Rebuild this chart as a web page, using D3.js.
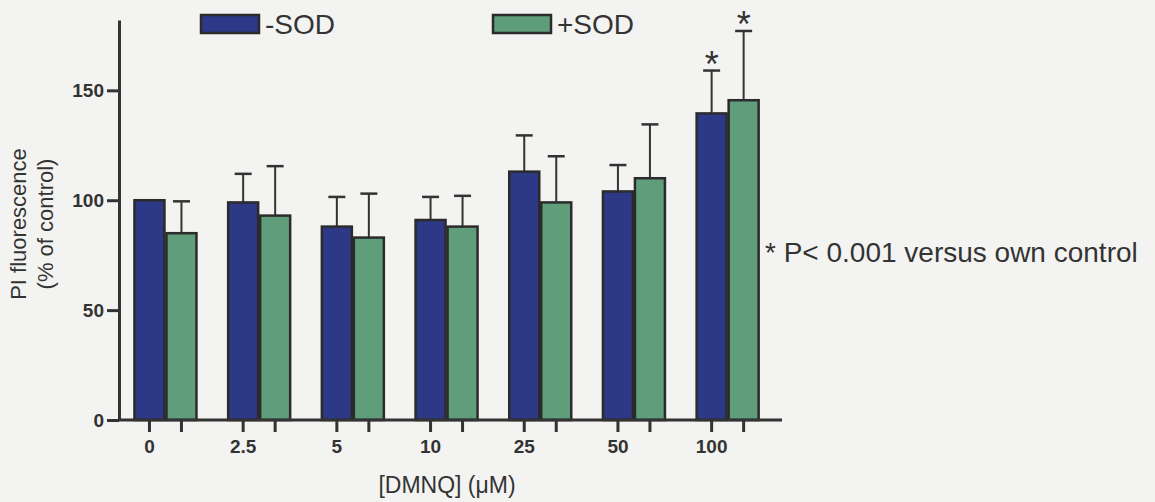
<!DOCTYPE html>
<html>
<head>
<meta charset="utf-8">
<script src="https://cdn.jsdelivr.net/npm/d3@7"></script>
<style>
  html, body { margin: 0; padding: 0; background: #f3f3f1; }
  svg { display: block; font-family: "Liberation Sans", Arial, sans-serif; }
</style>
</head>
<body>
<div id="paper"></div>
<script>
var width = 1155,
    height = 502;

// data
var doses = ["0", "2.5", "5", "10", "25", "50", "100"];
var series = ["-SOD", "+SOD"];
var minusSOD = [100, 99, 88, 91, 113, 104, 139.5];
var minusSODErr = [0, 13, 13.5, 10.5, 16.5, 12, 19.5];
var plusSOD = [85, 93, 83, 88, 99, 110, 145.5];
var plusSODErr = [14.5, 22.5, 20, 14, 21, 24.5, 31.5];
var yTicks = [0, 50, 100, 150];
var signif = [{dose: "100", s: "-SOD"}, {dose: "100", s: "+SOD"}];

var colors = {"-SOD": "#2d3886", "+SOD": "#5f9d7b"};
var ink = "#333";

var svg = d3.select("#paper").append("svg")
    .attr("width", width)
    .attr("height", height);

var y = d3.scaleLinear().domain([0, 182]).range([420, 20]);
var x = d3.scaleBand().domain(doses).range([119.5, 773.6])
    .paddingInner(0.317).paddingOuter(0.149);
var xs = d3.scaleBand().domain(series).range([0, x.bandwidth()]);

var rows = [];
doses.forEach(function(d, i) {
  rows.push({dose: d, s: "-SOD", v: minusSOD[i], e: minusSODErr[i]});
  rows.push({dose: d, s: "+SOD", v: plusSOD[i], e: plusSODErr[i]});
});
var cx = function(r) { return x(r.dose) + xs(r.s) + xs.bandwidth() / 2; };

// error bars (upper only)
var eb = svg.append("g").attr("stroke", ink).attr("stroke-width", 2);
eb.selectAll("line.v").data(rows.filter(function(r) { return r.e > 0; }))
  .enter().append("line")
    .attr("x1", cx).attr("x2", cx)
    .attr("y1", function(r) { return y(r.v); })
    .attr("y2", function(r) { return y(r.v + r.e); });
eb.selectAll("line.c").data(rows.filter(function(r) { return r.e > 0; }))
  .enter().append("line")
    .attr("x1", function(r) { return cx(r) - 8.5; })
    .attr("x2", function(r) { return cx(r) + 8.5; })
    .attr("y1", function(r) { return y(r.v + r.e); })
    .attr("y2", function(r) { return y(r.v + r.e); })
    .attr("stroke-width", 2.5);

// bars
svg.append("g").selectAll("rect").data(rows).enter().append("rect")
    .attr("x", function(r) { return x(r.dose) + xs(r.s) + 1; })
    .attr("width", xs.bandwidth() - 2)
    .attr("y", function(r) { return y(r.v); })
    .attr("height", function(r) { return y(0) - y(r.v); })
    .attr("fill", function(r) { return colors[r.s]; })
    .attr("stroke", "#2b2b2b")
    .attr("stroke-width", 2.5);

// significance stars
svg.append("g").selectAll("text").data(signif).enter().append("text")
    .attr("x", function(d) { return x(d.dose) + xs(d.s) + xs.bandwidth() / 2; })
    .attr("y", function(d) {
      var i = doses.indexOf(d.dose);
      var top = d.s == "-SOD" ? minusSOD[i] + minusSODErr[i] : plusSOD[i] + plusSODErr[i];
      return y(top) + 6;
    })
    .attr("text-anchor", "middle")
    .attr("font-size", 36)
    .attr("fill", ink)
    .text("*");

// y axis
var yAxis = svg.append("g")
    .attr("transform", "translate(119,0)")
    .call(d3.axisLeft(y).tickValues(yTicks).tickSize(12).tickPadding(3).tickSizeOuter(0));
yAxis.select(".domain").attr("stroke", ink).attr("stroke-width", 3);
yAxis.selectAll(".tick line").attr("stroke", ink).attr("stroke-width", 3);
yAxis.selectAll(".tick text").attr("fill", ink).attr("font-size", 19)
    .attr("font-weight", "bold").attr("font-family", "Liberation Sans, Arial, sans-serif");

// x axis line
svg.append("line")
    .attr("x1", 119).attr("x2", 782)
    .attr("y1", y(0)).attr("y2", y(0))
    .attr("stroke", ink).attr("stroke-width", 3);

// x ticks at every bar centre, labels under first bar of each pair
svg.append("g").selectAll("line").data(rows).enter().append("line")
    .attr("x1", cx).attr("x2", cx)
    .attr("y1", y(0)).attr("y2", y(0) + 12)
    .attr("stroke", ink).attr("stroke-width", 3);
svg.append("g").selectAll("text").data(doses).enter().append("text")
    .attr("x", function(d) { return x(d) + xs("-SOD") + xs.bandwidth() / 2; })
    .attr("y", 453)
    .attr("text-anchor", "middle")
    .attr("font-size", 19)
    .attr("font-weight", "bold")
    .attr("fill", ink)
    .text(function(d) { return d; });

// axis titles
svg.append("text")
    .attr("x", 447).attr("y", 493)
    .attr("text-anchor", "middle")
    .attr("font-size", 23)
    .attr("fill", ink)
    .text("[DMNQ] (μM)");

var yl = svg.append("text")
    .attr("transform", "translate(0,224) rotate(-90)")
    .attr("text-anchor", "middle")
    .attr("font-size", 22)
    .attr("fill", ink);
yl.append("tspan").attr("x", 0).attr("y", 26).text("PI fluorescence");
yl.append("tspan").attr("x", 0).attr("y", 53).text("(% of control)");

// legend
var legX = {"-SOD": 200, "+SOD": 492};
var leg = svg.append("g").selectAll("g").data(series).enter().append("g")
    .attr("transform", function(s) { return "translate(" + legX[s] + ",0)"; });
leg.append("rect")
    .attr("x", 1).attr("y", 15).attr("width", 58).attr("height", 18)
    .attr("fill", function(s) { return colors[s]; })
    .attr("stroke", "#2b2b2b").attr("stroke-width", 2.5);
leg.append("text")
    .attr("x", 65).attr("y", 34)
    .attr("font-size", 28)
    .attr("fill", ink)
    .text(function(s) { return s; });

// note
svg.append("text")
    .attr("x", 765).attr("y", 262)
    .attr("font-size", 28)
    .attr("fill", ink)
    .text("* P< 0.001 versus own control");
</script>
</body>
</html>
